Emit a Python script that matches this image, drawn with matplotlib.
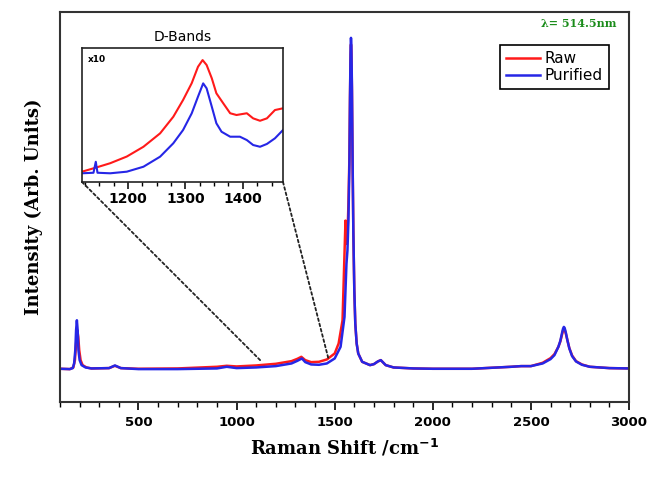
import matplotlib.pyplot as plt
from matplotlib.patches import ConnectionPatch
from matplotlib.ticker import MultipleLocator

shift_pur = [100, 150, 165, 172, 178, 182, 186, 190, 194, 200, 210, 230, 260, 350, 380,
             410, 500, 700, 900, 950, 1000, 1100, 1200, 1280, 1310, 1333, 1350, 1380,
             1420, 1460, 1500, 1530, 1550, 1560, 1565, 1570, 1575, 1578, 1581, 1583,
             1585, 1588, 1591, 1595, 1600, 1605, 1612, 1620, 1640, 1680, 1700, 1720,
             1735, 1760, 1800, 1900, 2000, 2200, 2400, 2450, 2500, 2560, 2600, 2620,
             2640, 2650, 2658, 2664, 2668, 2672, 2678, 2686, 2696, 2710, 2730, 2760,
             2800, 2900, 3000]
int_pur = [0.004, 0.003, 0.006, 0.02, 0.06, 0.12, 0.15, 0.12, 0.06, 0.03, 0.015, 0.008,
           0.005, 0.006, 0.014, 0.006, 0.003, 0.003, 0.005, 0.010, 0.006, 0.008, 0.012,
           0.020, 0.028, 0.035, 0.024, 0.017, 0.016, 0.020, 0.035, 0.07, 0.16, 0.32,
           0.36, 0.45, 0.62, 0.82, 0.97, 1.0, 0.98, 0.85, 0.65, 0.42, 0.24, 0.14, 0.08,
           0.05, 0.025, 0.015, 0.018, 0.026, 0.03, 0.015, 0.008, 0.005, 0.004, 0.004,
           0.010, 0.012, 0.012, 0.020, 0.033, 0.045, 0.07, 0.088, 0.11, 0.125, 0.13,
           0.127, 0.113, 0.09, 0.065, 0.042, 0.026, 0.016, 0.010, 0.006, 0.005]

shift_raw = [100, 150, 168, 176, 182, 188, 193, 198, 205, 215, 235, 260, 350, 380, 410,
             500, 700, 900, 950, 1000, 1100, 1200, 1280, 1310, 1330, 1350, 1380, 1420,
             1460, 1500, 1520, 1540, 1550, 1555, 1560, 1565, 1570, 1575, 1578, 1581,
             1583, 1585, 1588, 1591, 1595, 1600, 1605, 1612, 1620, 1640, 1680, 1700,
             1720, 1735, 1760, 1800, 1900, 2000, 2200, 2400, 2450, 2500, 2560, 2600,
             2620, 2640, 2650, 2658, 2664, 2668, 2672, 2678, 2686, 2696, 2710, 2730,
             2760, 2800, 2900, 3000]
int_raw = [0.004, 0.003, 0.008, 0.03, 0.08, 0.12, 0.10, 0.06, 0.03, 0.015, 0.008, 0.005,
           0.006, 0.013, 0.006, 0.004, 0.005, 0.010, 0.013, 0.011, 0.014, 0.019, 0.027,
           0.034, 0.040, 0.030, 0.024, 0.025, 0.032, 0.05, 0.08, 0.15, 0.35, 0.45, 0.38,
           0.40, 0.50, 0.64, 0.82, 0.95, 0.98, 0.96, 0.84, 0.64, 0.42, 0.24, 0.14, 0.08,
           0.05, 0.025, 0.015, 0.018, 0.026, 0.03, 0.015, 0.008, 0.005, 0.004, 0.004,
           0.010, 0.012, 0.012, 0.022, 0.036, 0.048, 0.07, 0.086, 0.105, 0.12, 0.125,
           0.122, 0.11, 0.09, 0.066, 0.044, 0.027, 0.017, 0.010, 0.006, 0.005]

# Digitized D-band inset (x10)
d_shift_raw = [1120, 1140, 1169, 1198, 1227, 1256, 1279, 1296, 1311, 1322, 1330, 1337,
               1346, 1354, 1366, 1378, 1389, 1407, 1418, 1430, 1442, 1456, 1470]
d_int_raw = [0.077, 0.102, 0.14, 0.19, 0.263, 0.363, 0.487, 0.612, 0.737, 0.86, 0.91,
             0.873, 0.774, 0.662, 0.587, 0.513, 0.50, 0.513, 0.475, 0.457, 0.475, 0.537,
             0.55]
d_shift_pur = [1120, 1140, 1144, 1147, 1169, 1198, 1227, 1256, 1279, 1296, 1311, 1322,
               1331, 1337, 1346, 1354, 1363, 1378, 1395, 1407, 1418, 1430, 1442, 1456,
               1470]
d_int_pur = [0.065, 0.069, 0.151, 0.069, 0.065, 0.077, 0.114, 0.189, 0.289, 0.388,
             0.512, 0.637, 0.736, 0.699, 0.562, 0.438, 0.375, 0.338, 0.338, 0.313,
             0.276, 0.263, 0.284, 0.326, 0.388]

red = '#ff1a1a'
blue = '#2626e6'
serif = 'DejaVu Serif'

fig = plt.figure(figsize=(6.48, 4.78), dpi=100)
ax = fig.add_axes([60 / 648, 0.159, 569 / 648, 0.816])
ax.plot(shift_raw, int_raw, color=red, lw=1.8, label='Raw')
ax.plot(shift_pur, int_pur, color=blue, lw=1.8, label='Purified')
ax.set_xlim(100, 3000)
ax.set_ylim(-0.096, 1.078)
ax.set_yticks([])
ax.xaxis.set_major_locator(MultipleLocator(500))
ax.xaxis.set_minor_locator(MultipleLocator(100))
ax.tick_params(axis='x', which='major', direction='out', length=6, width=1.2, pad=4)
ax.tick_params(axis='x', which='minor', direction='out', length=3.5, width=1.0)
for lab in ax.get_xticklabels():
    lab.set_fontweight('bold')
    lab.set_fontsize(9.5)
for s in ax.spines.values():
    s.set_linewidth(1.5)
    s.set_color('#333333')
ax.set_xlabel('Raman Shift /cm$^{\\mathbf{-1}}$', fontfamily=serif, fontweight='bold',
              fontsize=13, labelpad=6)
ax.set_ylabel('Intensity (Arb. Units)', fontfamily=serif, fontweight='bold',
              fontsize=13, labelpad=12)
leg = ax.legend(loc='upper right', bbox_to_anchor=(0.978, 0.935), fontsize=11,
                fancybox=False, edgecolor='black', framealpha=1, handlelength=2.2,
                handletextpad=0.3, borderpad=0.4, labelspacing=0.15)
leg.get_frame().set_linewidth(1.2)
ax.text(0.978, 0.985, 'λ= 514.5nm', transform=ax.transAxes, ha='right', va='top',
        color='#1a8c1a', fontfamily=serif, fontsize=8, fontweight='bold')

# Inset
ins = fig.add_axes([82 / 648, 1 - 182 / 478, 201 / 648, 134 / 478])
ins.plot(d_shift_raw, d_int_raw, color=red, lw=1.5)
ins.plot(d_shift_pur, d_int_pur, color=blue, lw=1.5)
ins.set_xlim(1120, 1470)
ins.set_ylim(0, 1)
ins.set_yticks([])
ins.xaxis.set_major_locator(MultipleLocator(100))
ins.xaxis.set_minor_locator(MultipleLocator(25))
ins.tick_params(axis='x', which='major', direction='out', length=5, width=1.1, pad=2)
ins.tick_params(axis='x', which='minor', direction='out', length=3, width=1.0)
for lab in ins.get_xticklabels():
    lab.set_fontweight('bold')
    lab.set_fontsize(10)
for s in ins.spines.values():
    s.set_linewidth(1.2)
    s.set_color('#222222')
ins.set_title('D-Bands', fontsize=10, pad=5)
ins.text(0.03, 0.95, 'x10', transform=ins.transAxes, ha='left', va='top',
         fontsize=6.5, fontweight='bold')

for xa, xb in [(0, 1120), (1, 1470)]:
    con = ConnectionPatch(xyA=(xa, 0), coordsA=ins.transAxes, xyB=(xb, 0.03),
                          coordsB=ax.transData, linestyle=(0, (1.5, 1.5)),
                          color='#222222', lw=1.3)
    fig.add_artist(con)

fig.savefig('out.png', dpi=100)
